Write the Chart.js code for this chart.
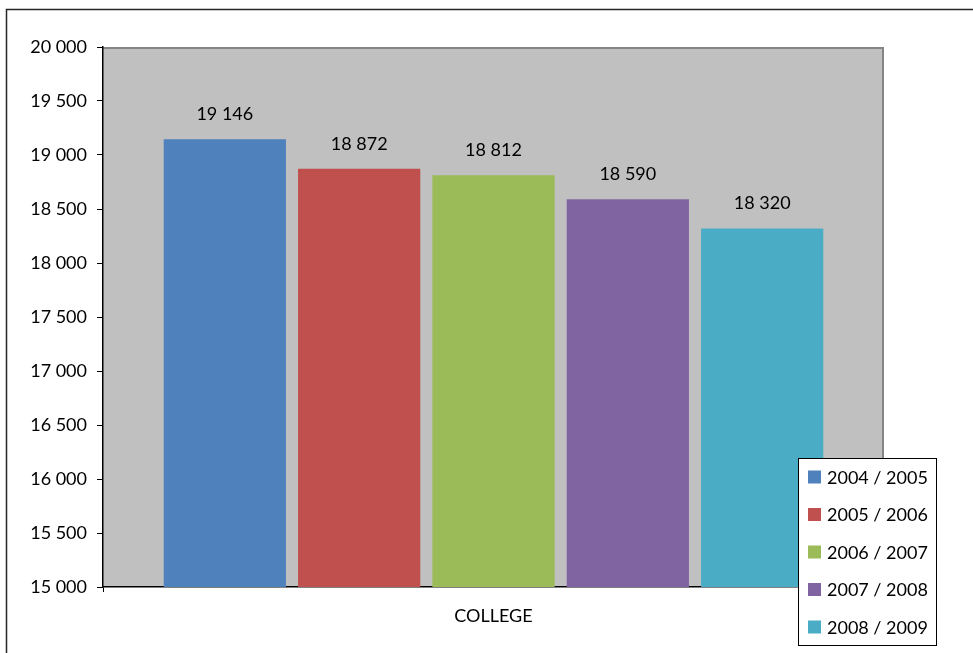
<!DOCTYPE html>
<html>
<head>
<meta charset="utf-8">
<script src="https://cdn.jsdelivr.net/npm/chart.js@4/dist/chart.umd.min.js"></script>
<style>
html,body{margin:0;padding:0;background:#fff;}
#wrap{width:973px;height:653px;position:relative;}
</style>
</head>
<body>
<div id="wrap"><canvas id="c" width="973" height="653"></canvas></div>
<script>
const categories = ["COLLEGE"];
const seriesLabels = ["2004 / 2005", "2005 / 2006", "2006 / 2007", "2007 / 2008", "2008 / 2009"];
const seriesValues = [19146, 18872, 18812, 18590, 18320];
const seriesColors = ["#4F81BD", "#C0504D", "#9BBB59", "#8064A2", "#4BACC6"];
const yTicks = [15000, 15500, 16000, 16500, 17000, 17500, 18000, 18500, 19000, 19500, 20000];

const FONT = "Lato, 'Open Sans', sans-serif";
const FS = 18;
const fmt = v => String(v).replace(/\B(?=(\d{3})+(?!\d))/g, " ");

const frame = {
  id: 'frame',
  beforeDraw(chart) {
    const ctx = chart.ctx, a = chart.chartArea;
    ctx.save();
    ctx.fillStyle = '#fff';
    ctx.fillRect(0, 0, chart.width, chart.height);
    ctx.strokeStyle = '#262626';
    ctx.lineWidth = 1.5;
    ctx.strokeRect(6.5, 9.5, 1100, 1100);
    ctx.fillStyle = '#C0C0C0';
    ctx.fillRect(a.left, a.top, a.right - a.left, a.bottom - a.top);
    ctx.strokeStyle = '#858585';
    ctx.lineWidth = 2;
    ctx.beginPath();
    ctx.moveTo(a.left, a.top + 1);
    ctx.lineTo(a.right - 1, a.top + 1);
    ctx.lineTo(a.right - 1, a.bottom);
    ctx.stroke();
    ctx.restore();
  },
  afterDatasetsDraw(chart) {
    const ctx = chart.ctx;
    ctx.save();
    ctx.font = FS + "px " + FONT;
    ctx.fillStyle = '#000';
    ctx.textAlign = 'center';
    ctx.textBaseline = 'middle';
    chart.data.datasets.forEach((ds, i) => {
      const meta = chart.getDatasetMeta(i);
      meta.data.forEach((bar, j) => {
        ctx.fillText(fmt(ds.data[j]), bar.x, bar.y - 25);
      });
    });
    // legend box
    const lx = 798, ly = 458, lw = 138, lh = 187;
    ctx.fillStyle = '#fff';
    ctx.fillRect(lx, ly, lw, lh);
    ctx.strokeStyle = '#000';
    ctx.lineWidth = 1;
    ctx.strokeRect(lx + 0.5, ly + 0.5, lw, lh);
    ctx.textAlign = 'left';
    chart.data.datasets.forEach((ds, i) => {
      const cy = 477 + i * 37.5;
      ctx.fillStyle = ds.backgroundColor;
      ctx.fillRect(808, cy - 6.5, 13, 13);
      ctx.fillStyle = '#000';
      ctx.fillText(ds.label, 827, cy + 1);
    });
    ctx.restore();
  }
};

new Chart(document.getElementById('c'), {
  type: 'bar',
  data: {
    labels: categories,
    datasets: seriesLabels.map((l, i) => ({
      label: l,
      data: [seriesValues[i]],
      backgroundColor: seriesColors[i],
      borderWidth: 0
    }))
  },
  options: {
    responsive: false,
    animation: false,
    devicePixelRatio: 1,
    layout: { padding: { left: 0, top: 47, right: 89, bottom: 0 } },
    datasets: { bar: { categoryPercentage: 0.86, barPercentage: 0.91 } },
    plugins: { legend: { display: false }, tooltip: { enabled: false } },
    scales: {
      x: {
        afterFit(s) { s.height = 66; },
        grid: { display: true, drawOnChartArea: false, drawTicks: true, tickLength: 5, color: '#000', offset: true },
        border: { display: true, color: '#000', width: 1.5 },
        ticks: { color: '#000', font: { size: FS, family: FONT }, padding: 13 }
      },
      y: {
        min: 15000, max: 20000,
        afterFit(s) { s.width = 103; },
        afterBuildTicks(s) { s.ticks = yTicks.map(v => ({ value: v })); },
        grid: { display: true, drawOnChartArea: false, drawTicks: true, tickLength: 6, color: '#000' },
        border: { display: true, color: '#000', width: 1.5 },
        ticks: { color: '#000', font: { size: FS, family: FONT }, padding: 10, callback: v => fmt(v) }
      }
    }
  },
  plugins: [frame]
});
</script>
</body>
</html>
